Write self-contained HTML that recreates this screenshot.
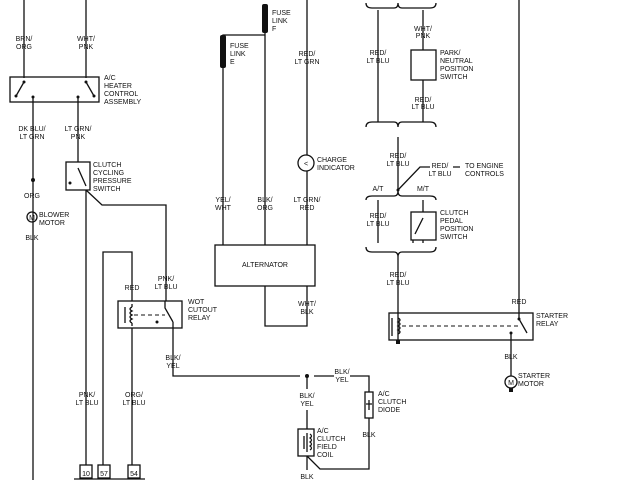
<!DOCTYPE html>
<html><head><style>body{margin:0;background:#fff}svg{display:block}text{font-family:"Liberation Sans",sans-serif;font-size:7px;fill:#111}.m{text-anchor:middle}</style></head><body>
<svg width="640" height="480" viewBox="0 0 640 480" xmlns="http://www.w3.org/2000/svg">
<g stroke="#111" stroke-width="1.3" fill="none">
<path d="M24 0V78M86 0V78"/>
<rect x="10" y="77" width="89" height="25"/>
<path d="M24 82L16 96M86 82L94 96"/>
<path d="M33 97V480M78 97V162"/>
<rect x="66" y="162" width="24" height="28"/>
<path d="M78 168L86 186M86 190L102 205H166V301M86 190V465"/>
<circle cx="32" cy="217" r="5"/>
<path d="M103 465V252H132V301M132 328V465"/>
<rect x="118" y="301" width="64" height="27"/>
<path d="M132 304V307M132 323V326M132 307q-4 2 0 4q-4 2 0 4q-4 2 0 4q-4 2 0 4M125 307V323M165 301V308L173 322M173 322V376H300M314 376H334M350 376H369V392M369 418V469H320L307 456M307 376V389M307 410V429"/>
<path d="M134 315H165" stroke-dasharray="4 3" stroke-width="1"/>
<rect x="298" y="429" width="16" height="27"/>
<path d="M307 433V452M304 436V449M310 434q3 2 0 4q3 2 0 4q3 2 0 4q3 2 0 4"/>
<path d="M307 456V470"/>
<rect x="365" y="392" width="8" height="26"/>
<path d="M369 400V410M366 404H372"/>
<path d="M74 479H145"/>
<rect x="80" y="465" width="12" height="13"/><rect x="98" y="465" width="12" height="13"/><rect x="128" y="465" width="12" height="13"/>
<path d="M265 33V245M265 35H223V245M307 0V155M307 171V245M265 286V326H307V286"/>
<rect x="215" y="245" width="100" height="41"/>
<circle cx="306" cy="163" r="8"/>
<path d="M366 3Q366 8 372 8H394Q398 8 398 3Q398 8 402 8H430Q436 8 436 3"/>
<path d="M378 10V122M423 10V50M423 80V122"/>
<rect x="411" y="50" width="25" height="30"/>
<path d="M366 127Q366 122 372 122H394Q398 122 398 127Q398 122 402 122H430Q436 122 436 127"/>
<path d="M398 137V190L420 167H430M453 167H460"/>
<path d="M366 200Q366 196 372 196H394Q398 196 398 191Q398 196 402 196H430Q436 196 436 200"/>
<path d="M378 200V243M423 200V212M413 240V243M423 240V243"/>
<rect x="411" y="212" width="25" height="28"/>
<path d="M423 218L415 234"/>
<path d="M366 247Q366 252 372 252H394Q398 252 398 257Q398 252 402 252H430Q436 252 436 247"/>
<path d="M398 257V342M398 318q4 2 0 4q4 2 0 4q4 2 0 4q4 2 0 4M392 318V336M519 0V319L527 333M511 333V376"/>
<rect x="389" y="313" width="144" height="27"/>
<path d="M402 326H519" stroke-dasharray="4 3" stroke-width="1"/>
<circle cx="511" cy="382" r="6"/>
</g>
<g fill="#111">
<rect x="262" y="4" width="6" height="29" rx="2"/>
<rect x="220" y="35" width="6" height="33" rx="2"/>
<circle cx="24" cy="82" r="1.5"/><circle cx="16" cy="96" r="1.5"/><circle cx="33" cy="97" r="1.5"/><circle cx="78" cy="97" r="1.5"/><circle cx="86" cy="82" r="1.5"/><circle cx="94" cy="96" r="1.5"/>
<circle cx="33" cy="180" r="2"/><circle cx="307" cy="376" r="2"/><circle cx="157" cy="322" r="1.5"/><circle cx="70" cy="183" r="1.5"/>
<rect x="396" y="340" width="4" height="4"/><circle cx="511" cy="333" r="1.5"/><circle cx="519" cy="319" r="1.5"/><circle cx="398" cy="190" r="1.5"/>
<rect x="509" y="388" width="4" height="4"/>
</g>
<g>
<text class="m" x="24" y="41">BRN/</text><text class="m" x="24" y="49">ORG</text>
<text class="m" x="86" y="41">WHT/</text><text class="m" x="86" y="49">PNK</text>
<text x="104" y="80">A/C</text><text x="104" y="88">HEATER</text><text x="104" y="96">CONTROL</text><text x="104" y="104">ASSEMBLY</text>
<text class="m" x="32" y="131">DK BLU/</text><text class="m" x="32" y="139">LT GRN</text>
<text class="m" x="78" y="131">LT GRN/</text><text class="m" x="78" y="139">PNK</text>
<text x="93" y="167">CLUTCH</text><text x="93" y="175">CYCLING</text><text x="93" y="183">PRESSURE</text><text x="93" y="191">SWITCH</text>
<text class="m" x="32" y="198">ORG</text>
<text class="m" x="32" y="220" font-size="6">M</text>
<text x="39" y="217">BLOWER</text><text x="39" y="225">MOTOR</text>
<text class="m" x="32" y="240">BLK</text>
<text class="m" x="132" y="290">RED</text>
<text class="m" x="166" y="281">PNK/</text><text class="m" x="166" y="289">LT BLU</text>
<text x="188" y="304">WOT</text><text x="188" y="312">CUTOUT</text><text x="188" y="320">RELAY</text>
<text class="m" x="173" y="360">BLK/</text><text class="m" x="173" y="368">YEL</text>
<text class="m" x="87" y="397">PNK/</text><text class="m" x="87" y="405">LT BLU</text>
<text class="m" x="134" y="397">ORG/</text><text class="m" x="134" y="405">LT BLU</text>
<text class="m" x="86" y="476">10</text><text class="m" x="104" y="476">57</text><text class="m" x="134" y="476">54</text>
<text x="272" y="15">FUSE</text><text x="272" y="23">LINK</text><text x="272" y="31">F</text>
<text x="230" y="48">FUSE</text><text x="230" y="56">LINK</text><text x="230" y="64">E</text>
<text class="m" x="307" y="56">RED/</text><text class="m" x="307" y="64">LT GRN</text>
<text class="m" x="306" y="166" font-size="6">&lt;</text>
<text x="317" y="162">CHARGE</text><text x="317" y="170">INDICATOR</text>
<text class="m" x="223" y="202">YEL/</text><text class="m" x="223" y="210">WHT</text>
<text class="m" x="265" y="202">BLK/</text><text class="m" x="265" y="210">ORG</text>
<text class="m" x="307" y="202">LT GRN/</text><text class="m" x="307" y="210">RED</text>
<text class="m" x="265" y="267">ALTERNATOR</text>
<text class="m" x="307" y="306">WHT/</text><text class="m" x="307" y="314">BLK</text>
<text class="m" x="342" y="374">BLK/</text><text class="m" x="342" y="382">YEL</text>
<text class="m" x="307" y="398">BLK/</text><text class="m" x="307" y="406">YEL</text>
<text x="378" y="396">A/C</text><text x="378" y="404">CLUTCH</text><text x="378" y="412">DIODE</text>
<text class="m" x="369" y="437">BLK</text>
<text x="317" y="433">A/C</text><text x="317" y="441">CLUTCH</text><text x="317" y="449">FIELD</text><text x="317" y="457">COIL</text>
<text class="m" x="307" y="479">BLK</text>
<text class="m" x="423" y="31">WHT/</text><text class="m" x="423" y="38">PNK</text>
<text class="m" x="378" y="55">RED/</text><text class="m" x="378" y="63">LT BLU</text>
<text x="440" y="55">PARK/</text><text x="440" y="63">NEUTRAL</text><text x="440" y="71">POSITION</text><text x="440" y="79">SWITCH</text>
<text class="m" x="423" y="102">RED/</text><text class="m" x="423" y="109">LT BLU</text>
<text class="m" x="398" y="158">RED/</text><text class="m" x="398" y="166">LT BLU</text>
<text class="m" x="440" y="168">RED/</text><text class="m" x="440" y="176">LT BLU</text>
<text x="465" y="168">TO ENGINE</text><text x="465" y="176">CONTROLS</text>
<text class="m" x="378" y="191">A/T</text><text class="m" x="423" y="191">M/T</text>
<text class="m" x="378" y="218">RED/</text><text class="m" x="378" y="226">LT BLU</text>
<text x="440" y="215">CLUTCH</text><text x="440" y="223">PEDAL</text><text x="440" y="231">POSITION</text><text x="440" y="239">SWITCH</text>
<text class="m" x="398" y="277">RED/</text><text class="m" x="398" y="285">LT BLU</text>
<text class="m" x="519" y="304">RED</text>
<text x="536" y="318">STARTER</text><text x="536" y="326">RELAY</text>
<text class="m" x="511" y="359">BLK</text>
<text class="m" x="511" y="385" font-size="6">M</text>
<text x="518" y="378">STARTER</text><text x="518" y="386">MOTOR</text>
</g>
</svg>
</body></html>
